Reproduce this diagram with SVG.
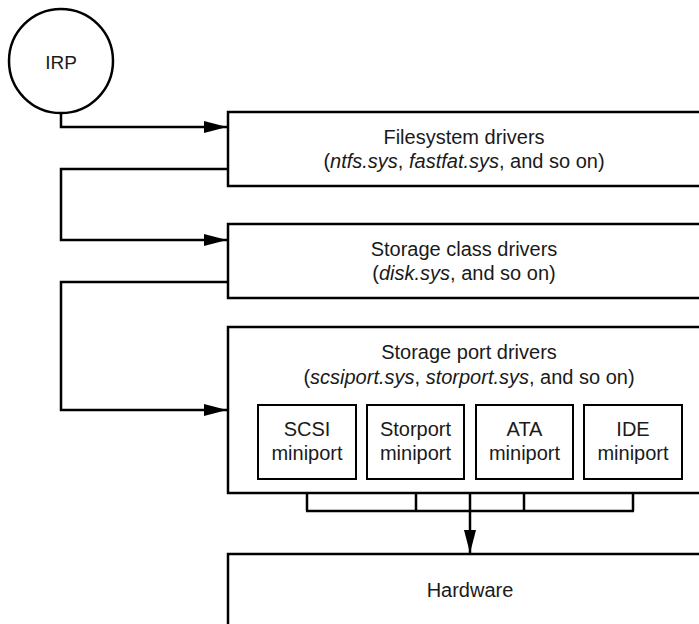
<svg xmlns="http://www.w3.org/2000/svg" width="699" height="624" viewBox="0 0 699 624">
<style>
.box{fill:#fff;stroke:#000;stroke-width:2.5}
.mini{fill:#fff;stroke:#000;stroke-width:2}
.ln{fill:none;stroke:#000;stroke-width:2.5}
text{font-family:"Liberation Sans",Arial,sans-serif;font-size:20px;fill:#1a1a1a;text-anchor:middle}
.it{font-style:italic}
</style>
<defs>
<marker id="arr" markerUnits="userSpaceOnUse" markerWidth="24" markerHeight="14" refX="23" refY="6" orient="auto">
<polygon points="0,0 23,6 0,12" fill="#000"/>
</marker>
</defs>
<g id="connectors">
<path class="ln" d="M61,113 V127 H227" marker-end="url(#arr)"/>
<path class="ln" d="M228,169 H61 V240 H227" marker-end="url(#arr)"/>
<path class="ln" d="M228,282 H61 V410 H227" marker-end="url(#arr)"/>
<path class="ln" d="M307,479 V511 M416,479 V511 M524,479 V511 M633,479 V511 M306,511 H634"/>
<path class="ln" d="M470,493 V553" marker-end="url(#arr)"/>
</g>
<g id="irp">
<circle cx="61" cy="61" r="52" fill="#fff" stroke="#000" stroke-width="2.5"/>
<text x="61" y="69" style="font-size:19px">IRP</text>
</g>
<g id="filesystem">
<rect class="box" x="228" y="112" width="490" height="74"/>
<text x="464" y="144">Filesystem drivers</text>
<text x="464" y="168">(<tspan class="it">ntfs.sys</tspan>, <tspan class="it">fastfat.sys</tspan>, and so on)</text>
</g>
<g id="storageclass">
<rect class="box" x="228" y="224" width="490" height="74"/>
<text x="464" y="256">Storage class drivers</text>
<text x="464" y="280">(<tspan class="it">disk.sys</tspan>, and so on)</text>
</g>
<g id="storageport">
<rect class="box" x="228" y="327" width="490" height="166"/>
<text x="469" y="359">Storage port drivers</text>
<text x="469" y="384">(<tspan class="it">scsiport.sys</tspan>, <tspan class="it">storport.sys</tspan>, and so on)</text>
</g>
<g id="scsi">
<rect class="mini" x="258" y="405" width="98" height="74"/>
<text x="307" y="436">SCSI</text>
<text x="307" y="460">miniport</text>
</g>
<g id="storport">
<rect class="mini" x="367" y="405" width="97" height="74"/>
<text x="415.5" y="436">Storport</text>
<text x="415.5" y="460">miniport</text>
</g>
<g id="ata">
<rect class="mini" x="476" y="405" width="97" height="74"/>
<text x="524.5" y="436">ATA</text>
<text x="524.5" y="460">miniport</text>
</g>
<g id="ide">
<rect class="mini" x="584" y="405" width="98" height="74"/>
<text x="633" y="436">IDE</text>
<text x="633" y="460">miniport</text>
</g>
<g id="hardware">
<rect class="box" x="228" y="554" width="490" height="100"/>
<text x="470" y="597">Hardware</text>
</g>
</svg>
